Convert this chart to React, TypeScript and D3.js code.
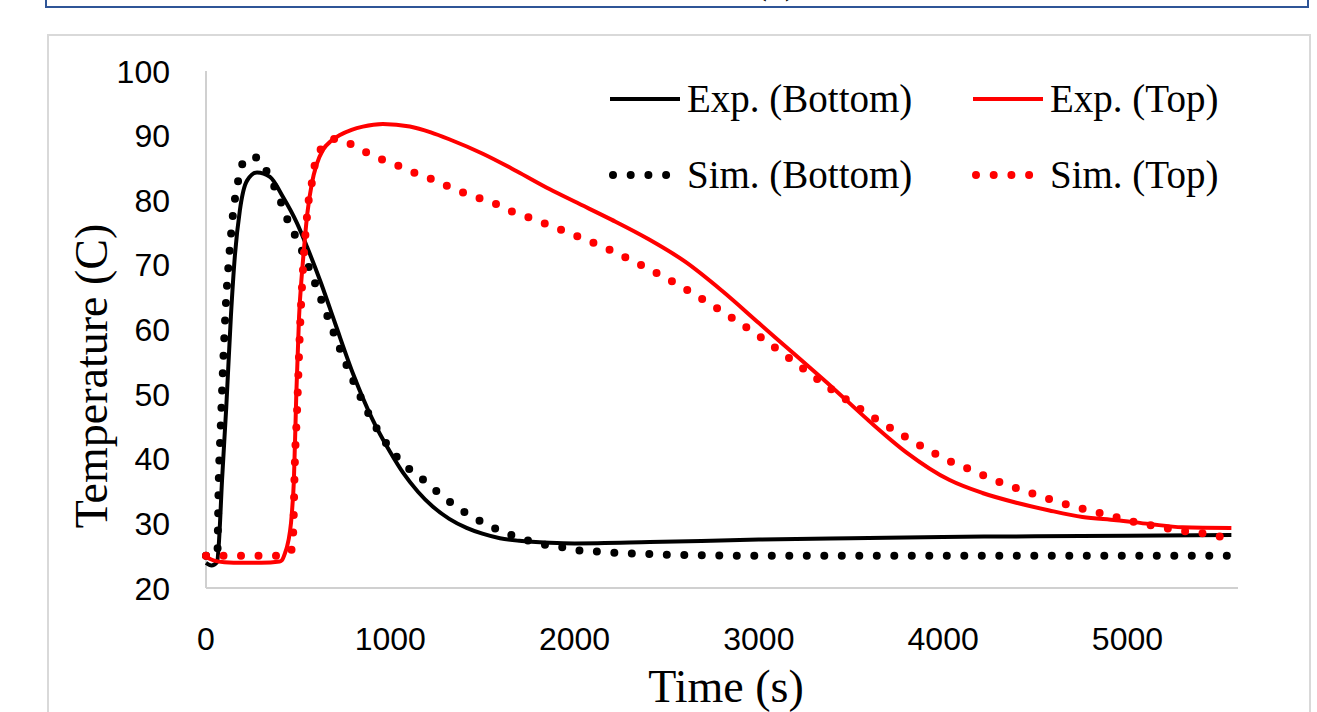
import React from 'react';
import * as d3 from 'd3';

// time (s) and temperature (C)
const expBottomTime = [0, 30, 60, 70, 87, 110, 135, 157, 184, 222, 277, 347, 418, 493, 548, 620, 700, 800, 900, 1000, 1070, 1150, 1230, 1320, 1414, 1500, 1595, 1700, 1865, 2000, 2408, 3000, 3500, 4000, 4500, 5000, 5564];
const expBottomTemp = [23.9, 23.5, 24.0, 27, 36.7, 48, 62, 71.5, 78.5, 83.0, 84.3, 83.6, 80.5, 76.5, 72.8, 67.5, 61, 53, 46.3, 41, 37.8, 34.9, 32.6, 30.7, 29.3, 28.4, 27.7, 27.3, 27.0, 26.9, 27.1, 27.5, 27.7, 27.9, 28.0, 28.1, 28.2];

const simBottomTime = [0, 30, 55, 62, 65, 68, 80, 95, 110, 125, 130, 140, 150, 165, 178, 206, 240, 277, 331, 374, 412, 445, 488, 560, 640, 720, 800, 900, 1000, 1100, 1199, 1274, 1350, 1428, 1513, 1600, 1686, 1779, 1876, 1966, 2055, 2153, 2245, 2343, 2600, 3000, 4000, 5000, 5560];
const simBottomTemp = [25, 25, 25.1, 25.5, 30, 35, 45, 56, 65, 71, 72.8, 76, 78.8, 81.5, 83.5, 86.1, 86.7, 86.6, 84.4, 81.9, 79.3, 76.8, 74.3, 69.5, 63.5, 57.5, 52, 46, 41.5, 38.5, 36.3, 34.4, 32.8, 31.3, 30, 28.8, 27.9, 27.1, 26.5, 26.2, 25.7, 25.6, 25.4, 25.3, 25.1, 25.0, 25.0, 25.0, 25.0];

const expTopTime = [0, 50, 100, 200, 300, 400, 412, 430, 439, 466, 477, 490, 505, 520, 531, 550, 575, 600, 635, 680, 727, 790, 851, 960, 1106, 1220, 1323, 1502, 1686, 1866, 2000, 2200, 2400, 2600, 2800, 3000, 3200, 3400, 3600, 3800, 4035, 4213, 4397, 4577, 4756, 4940, 5120, 5298, 5564];
const expTopTemp = [24.8, 24.2, 24.0, 23.9, 23.9, 24.1, 24.3, 25.5, 26.3, 31.6, 36.7, 50, 62, 68.5, 72.3, 78, 82.7, 85.5, 87.8, 89.2, 90.1, 90.9, 91.4, 91.8, 91.4, 90.5, 89.4, 87.2, 84.5, 81.7, 79.8, 77.0, 74.0, 70.5, 66, 61, 56, 51, 45.8, 41, 36.7, 34.7, 33.2, 32, 31, 30.5, 29.9, 29.4, 29.3];

const simTopTime = [0, 100, 200, 300, 400, 440, 466, 475, 480, 495, 510, 530, 545, 558, 575, 591, 629, 705, 792, 879, 965, 1057, 1144, 1231, 1318, 1405, 1497, 1584, 1665, 1757, 1849, 2000, 2200, 2400, 2600, 2800, 3000, 3200, 3400, 3600, 3800, 4062, 4149, 4236, 4324, 4414, 4506, 4595, 4686, 4777, 4866, 4962, 5055, 5147, 5244, 5331, 5428, 5521, 5560];
const simTopTemp = [25, 25, 25, 25, 25, 25.3, 26, 30, 37, 48, 60, 71, 76.5, 80.2, 82.8, 85.6, 88.1, 89.5, 88.6, 87.3, 86.2, 85.2, 84.1, 83.2, 82.1, 81.1, 80.2, 79.3, 78.2, 77.3, 76.3, 74.6, 72.2, 69.4, 66.3, 62.8, 59.0, 54.8, 50.6, 46.8, 43.3, 39.3, 38.3, 37.2, 36.2, 35.3, 34.4, 33.6, 32.8, 32.1, 31.5, 30.8, 30.1, 29.6, 29.1, 28.7, 28.4, 27.9, 27.8];

const xTicks = [0, 1000, 2000, 3000, 4000, 5000];
const yTicks = [20, 30, 40, 50, 60, 70, 80, 90, 100];

const series = [
  {name: 'Exp. (Bottom)', time: expBottomTime, temp: expBottomTemp, color: '#000000', dotted: false},
  {name: 'Sim. (Bottom)', time: simBottomTime, temp: simBottomTemp, color: '#000000', dotted: true},
  {name: 'Exp. (Top)', time: expTopTime, temp: expTopTemp, color: '#ff0000', dotted: false},
  {name: 'Sim. (Top)', time: simTopTime, temp: simTopTemp, color: '#ff0000', dotted: true},
];

const W = 1317;
const H = 712;
const serif = '"Liberation Serif", "Times New Roman", serif';
const sans = '"Liberation Sans", Arial, sans-serif';

export default function App() {
  const x = d3.scaleLinear().domain([0, 5600]).range([206, 1238]);
  const y = d3.scaleLinear().domain([20, 100]).range([588, 71]);
  const line = d3.line<[number, number]>()
    .x(d => x(d[0]))
    .y(d => y(d[1]))
    .curve(d3.curveMonotoneX);

  // legend layout: two columns, two rows
  const legendCols = [610, 973];
  const legendRows = [99, 175];

  return (
    <div style={{position: 'absolute', left: 0, top: 0}}>
      <svg width={W} height={H} style={{display: 'block', background: '#fff'}}>
        {/* panel box above, cut off */}
        <rect x={46} y={-30} width={1262} height={37} fill="none" stroke="#2f5597" strokeWidth={2} />
        <text x={776} y={-7} textAnchor="middle" fontFamily={serif} fontSize={40}>(a)</text>

        {/* chart frame */}
        <rect x={48} y={35} width={1262} height={720} fill="#fff" stroke="#d9d9d9" strokeWidth={2} />

        {/* axes */}
        <line x1={x(0)} x2={x(0)} y1={y(100)} y2={y(20)} stroke="#d0d0d0" strokeWidth={2} />
        <line x1={x(0)} x2={x(5600)} y1={y(20)} y2={y(20)} stroke="#d0d0d0" strokeWidth={2} />

        {yTicks.map(t => (
          <text key={'y' + t} x={170} y={y(t)} dy="0.36em" textAnchor="end" fontFamily={sans} fontSize={32} fill="#000">{t}</text>
        ))}
        {xTicks.map(t => (
          <text key={'x' + t} x={x(t)} y={650} textAnchor="middle" fontFamily={sans} fontSize={32} fill="#000">{t}</text>
        ))}

        <text transform="translate(107,376) rotate(-90)" textAnchor="middle" fontFamily={serif} fontSize={46}>Temperature (C)</text>
        <text x={726} y={702} textAnchor="middle" fontFamily={serif} fontSize={46}>Time (s)</text>

        {/* curves */}
        {series.map(s => (
          <path key={s.name}
            d={line(s.time.map((t, i) => [t, s.temp[i]] as [number, number])) || ''}
            fill="none" stroke={s.color}
            strokeWidth={s.dotted ? 8 : 4}
            strokeDasharray={s.dotted ? '0 17.5' : undefined}
            strokeLinecap={s.dotted ? 'round' : 'butt'}
            strokeLinejoin="round" />
        ))}

        {/* legend */}
        {series.map((s, i) => {
          const col = legendCols[i < 2 ? 0 : 1];
          const row = legendRows[i % 2];
          return (
            <g key={'lg' + s.name}>
              {s.dotted
                ? <line x1={col + 3} x2={col + 60} y1={row} y2={row} stroke={s.color} strokeWidth={8} strokeDasharray="0 17.7" strokeLinecap="round" />
                : <line x1={col} x2={col + 70} y1={row} y2={row} stroke={s.color} strokeWidth={4} />}
              <text x={col + 77} y={row + 13} fontFamily={serif} fontSize={39} fill="#000">{s.name}</text>
            </g>
          );
        })}
      </svg>
    </div>
  );
}
